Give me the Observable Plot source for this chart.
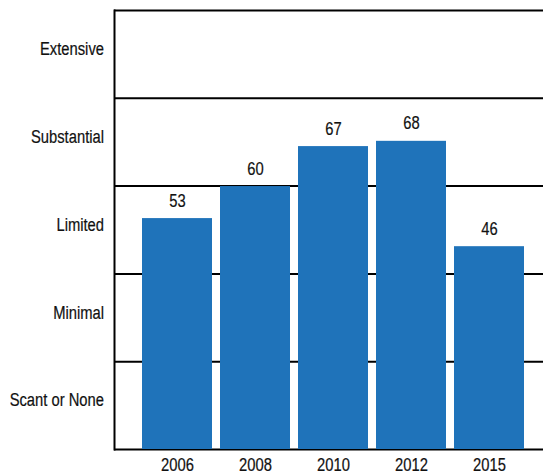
<!DOCTYPE html>
<html>
<head>
<meta charset="utf-8">
<script src="https://cdn.jsdelivr.net/npm/d3@7"></script>
<script src="https://cdn.jsdelivr.net/npm/@observablehq/plot@0.6"></script>
<style>
  html, body { margin: 0; padding: 0; background: #fff; }
  #chart svg { display: block; }
</style>
</head>
<body>
<div id="chart"></div>
<script>
const years = ["2006", "2008", "2010", "2012", "2015"];
const scoreLabels = ["53", "60", "67", "68", "46"];
const barHeights = [52.6, 59.9, 69.0, 70.2, 46.2];
const bandLevels = [0, 20, 40, 60, 80, 100];
const categoryNames = ["Scant or None", "Minimal", "Limited", "Substantial", "Extensive"];
const categoryMids = [10, 30, 50, 70, 90];

const bars = years.map((y, i) => ({year: y, value: barHeights[i], label: scoreLabels[i]}));
const font = "'Liberation Sans', Arial, sans-serif";

const chart = Plot.plot({
  width: 543,
  height: 474,
  marginLeft: 114,
  marginRight: 0,
  marginTop: 10,
  marginBottom: 25,
  style: {fontFamily: font, fontSize: "18px", color: "#111", background: "#fff"},
  x: {domain: years, range: [138, 528], paddingInner: 0.1026, paddingOuter: 0.05, label: null},
  y: {domain: [0, 100], label: null},
  marks: [
    Plot.ruleY(bandLevels, {stroke: "#000", strokeWidth: 2}),
    Plot.frame({anchor: "left", stroke: "#000", strokeWidth: 2}),
    Plot.barY(bars, {x: "year", y: "value", fill: "#1f73ba"}),
    Plot.text(bars, {x: "year", y: "value", text: "label", dy: -12, lineAnchor: "bottom", fontSize: 18, fill: "#111"}),
    Plot.axisX({tickSize: 0, tickPadding: 9, fontSize: 18, label: null}),
    Plot.axisY({ticks: categoryMids, tickSize: 0, tickPadding: 10.5, dy: -5, fontSize: 18, label: null,
      tickFormat: d => categoryNames[categoryMids.indexOf(d)]})
  ]
});
document.getElementById("chart").appendChild(chart);
// condense glyphs horizontally to mimic a narrow, medium-weight typeface
chart.querySelectorAll("text").forEach(t => {
  const w = t.getComputedTextLength();
  if (w > 0) {
    t.setAttribute("textLength", (w * 0.82).toFixed(2));
    t.setAttribute("lengthAdjust", "spacingAndGlyphs");
    t.setAttribute("stroke", "#111");
    t.setAttribute("stroke-width", "0.2");
  }
});
</script>
</body>
</html>
